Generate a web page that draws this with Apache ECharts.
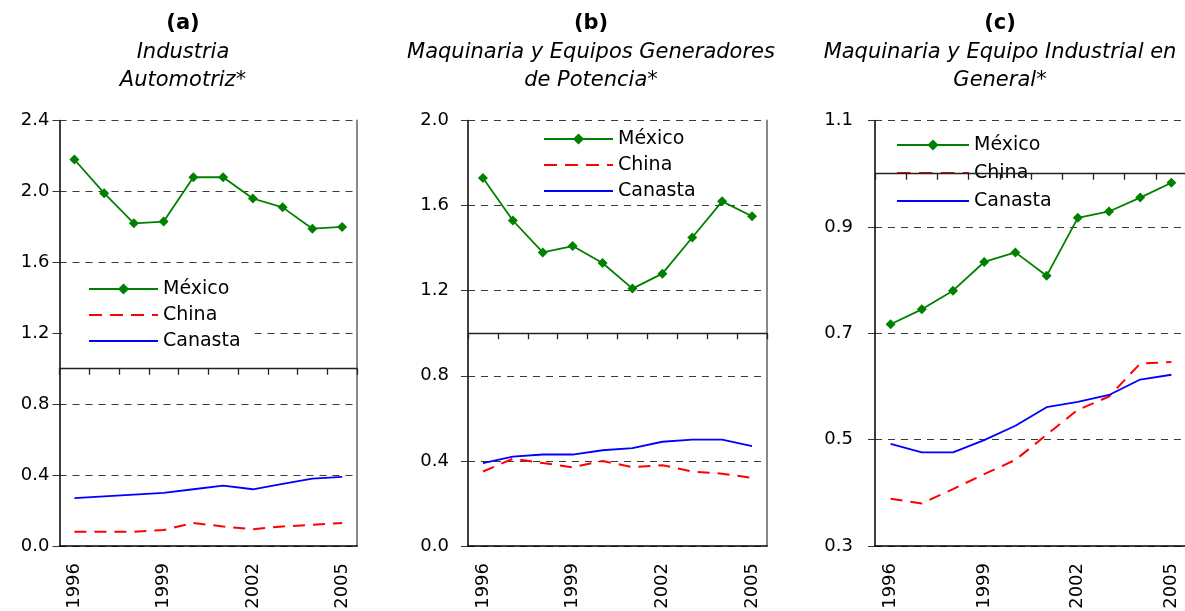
<!DOCTYPE html>
<html><head><meta charset="utf-8">
<script src="https://cdn.jsdelivr.net/npm/echarts@6/dist/echarts.min.js"></script>
<style>html,body{margin:0;padding:0;background:#fff}#c{width:1185px;height:611px}</style>
</head><body><div id="c"></div>
<script>
// ---------------- data ----------------
const years = ['1996','1997','1998','1999','2000','2001','2002','2003','2004','2005'];
const seriesNames = ['México', 'China', 'Canasta'];
const panelLetters = ['(a)', '(b)', '(c)'];
const panelTitles = [
  'Industria\nAutomotriz*',
  'Maquinaria y Equipos Generadores\nde Potencia*',
  'Maquinaria y Equipo Industrial en\nGeneral*'
];
// Panel (a) Industria Automotriz
const mexicoA  = [2.18, 1.99, 1.82, 1.83, 2.08, 2.08, 1.96, 1.91, 1.79, 1.80];
const chinaA   = [0.08, 0.08, 0.08, 0.09, 0.13, 0.11, 0.095, 0.11, 0.12, 0.13];
const canastaA = [0.27, 0.28, 0.29, 0.30, 0.32, 0.34, 0.32, 0.35, 0.38, 0.39];
// Panel (b) Maquinaria y Equipos Generadores de Potencia
const mexicoB  = [1.73, 1.53, 1.38, 1.41, 1.33, 1.21, 1.28, 1.45, 1.62, 1.55];
const chinaB   = [0.35, 0.41, 0.39, 0.37, 0.40, 0.37, 0.38, 0.35, 0.34, 0.32];
const canastaB = [0.39, 0.42, 0.43, 0.43, 0.45, 0.46, 0.49, 0.50, 0.50, 0.47];
// Panel (c) Maquinaria y Equipo Industrial en General
const mexicoC  = [0.717, 0.745, 0.780, 0.834, 0.852, 0.808, 0.917, 0.929, 0.955, 0.983];
const chinaC   = [0.389, 0.380, 0.407, 0.435, 0.462, 0.509, 0.556, 0.581, 0.643, 0.646];
const canastaC = [0.492, 0.476, 0.476, 0.499, 0.526, 0.561, 0.571, 0.584, 0.613, 0.622];
// y-axis ranges [min, max, step]
const yRangeA = [0, 2.4, 0.4];
const yRangeB = [0, 2.0, 0.4];
const yRangeC = [0.3, 1.1, 0.2];
const crossValue = 1.0; // horizontal axis crosses at 1.0

const panelData = [
  {mexico: mexicoA, china: chinaA, canasta: canastaA, yRange: yRangeA},
  {mexico: mexicoB, china: chinaB, canasta: canastaB, yRange: yRangeB},
  {mexico: mexicoC, china: chinaC, canasta: canastaC, yRange: yRangeC}
];

// ---------------- layout / style ----------------
const FONT = 'DejaVu Sans';
const GRID_TOP = 120.5, GRID_H = 425.5;
const layout = [
  {left: 59.5, width: 297.5, titleX: 183, labelMargin: 10,
   legend: {left: 62, top: 274, padding: [5, 14, 5, 26], bg: '#ffffff', itemWidth: 69, gap: 6}},
  {left: 468, width: 299, titleX: 591, labelMargin: 19,
   legend: {left: 543, top: 129, padding: 0, bg: 'transparent', itemWidth: 69, gap: 6}},
  {left: 875, width: 312, titleX: 1000, labelMargin: 22,
   legend: {left: 896, top: 135, padding: 0, bg: 'transparent', itemWidth: 72, gap: 8}}
];
const GREEN = '#008000', RED = '#ff0000', BLUE = '#0000ff';
// legend glyphs (shape only): dashed line and solid line
const ICON_DASHED = 'path://M0,0h13v2h-13z M21,0h13v2h-13z M42,0h13v2h-13z M63,0h6v2h-6z';
const ICON_SOLID = 'path://M0,0h69v2h-69z';

const option = {
  animation: false,
  backgroundColor: '#ffffff',
  title: [], legend: [], grid: [], xAxis: [], yAxis: [], series: []
};

panelData.forEach((p, i) => {
  const L = layout[i];
  const [ymin, ymax, ystep] = p.yRange;
  option.title.push({
    text: panelLetters[i],
    subtext: panelTitles[i],
    left: L.titleX, top: 11, textAlign: 'center', itemGap: 2, padding: 0,
    textStyle: {fontFamily: FONT, fontSize: 21, fontWeight: 'bold', color: '#000', lineHeight: 26},
    subtextStyle: {fontFamily: FONT, fontSize: 21, fontStyle: 'italic', color: '#000', lineHeight: 28}
  });
  option.legend.push({
    orient: 'vertical', left: L.legend.left, top: L.legend.top,
    padding: L.legend.padding, backgroundColor: L.legend.bg,
    itemWidth: L.legend.itemWidth, itemHeight: 14, itemGap: L.legend.gap,
    selectedMode: false, z: 4, symbolKeepAspect: true,
    data: [
      {name: seriesNames[0]},
      {name: seriesNames[1], icon: ICON_DASHED},
      {name: seriesNames[2], icon: ICON_SOLID}
    ],
    textStyle: {fontFamily: FONT, fontSize: 19, color: '#000', lineHeight: 20}
  });
  option.grid.push({
    left: L.left, top: GRID_TOP, width: L.width, height: GRID_H,
    containLabel: false, outerBoundsMode: 'none'
  });
  // bottom axis with labels
  option.xAxis.push({
    gridIndex: i, type: 'category', data: years, boundaryGap: true, position: 'bottom',
    axisLine: {show: true, onZero: false, lineStyle: {color: '#000', width: 1.5}},
    axisTick: {show: false},
    axisLabel: {interval: 2, rotate: 90, margin: 17, fontFamily: FONT, fontSize: 18, color: '#000'},
    splitLine: {show: false}
  });
  // axis crossing at 1.0 with tick marks
  const off = -GRID_H * (ymax - crossValue) / (ymax - ymin);
  option.xAxis.push({
    gridIndex: i, type: 'category', data: years, boundaryGap: true, position: 'top',
    offset: off, z: 6,
    axisLine: {show: true, onZero: false, lineStyle: {color: '#222', width: 1.3}},
    axisTick: {show: true, inside: true, length: 6, interval: 0, lineStyle: {color: '#222', width: 1.3}},
    axisLabel: {show: false},
    splitLine: {show: false}
  });
  option.yAxis.push({
    gridIndex: i, type: 'value', min: ymin, max: ymax, interval: ystep, position: 'left',
    axisLine: {show: true, onZero: false, lineStyle: {color: '#000', width: 1.5}},
    axisTick: {show: true, length: 7, lineStyle: {color: '#333', width: 1}},
    axisLabel: {margin: L.labelMargin, fontFamily: FONT, fontSize: 18, color: '#000',
                formatter: v => v.toFixed(1)},
    splitLine: {show: true, lineStyle: {color: '#3a3a3a', width: 1, type: [7, 6]}}
  });
  option.yAxis.push({
    gridIndex: i, type: 'value', min: ymin, max: ymax, interval: ystep, position: 'right',
    axisLine: {show: true, onZero: false, lineStyle: {color: '#888', width: 2}},
    axisTick: {show: false}, axisLabel: {show: false}, splitLine: {show: false}
  });
  const xi = i * 2, yi = i * 2;
  option.series.push({
    name: seriesNames[0], type: 'line', xAxisIndex: xi, yAxisIndex: yi, data: p.mexico,
    symbol: 'diamond', symbolSize: 10, showAllSymbol: true, z: 3,
    lineStyle: {color: GREEN, width: 1.8}, itemStyle: {color: GREEN}
  });
  option.series.push({
    name: seriesNames[1], type: 'line', xAxisIndex: xi, yAxisIndex: yi, data: p.china,
    symbol: 'none', z: 2,
    lineStyle: {color: RED, width: 2, type: [12, 8]}, itemStyle: {color: RED}
  });
  option.series.push({
    name: seriesNames[2], type: 'line', xAxisIndex: xi, yAxisIndex: yi, data: p.canasta,
    symbol: 'none', z: 2,
    lineStyle: {color: BLUE, width: 1.8}, itemStyle: {color: BLUE}
  });
});

const chart = echarts.init(document.getElementById('c'), null, {renderer: 'canvas'});
chart.setOption(option);
</script>
</body></html>
